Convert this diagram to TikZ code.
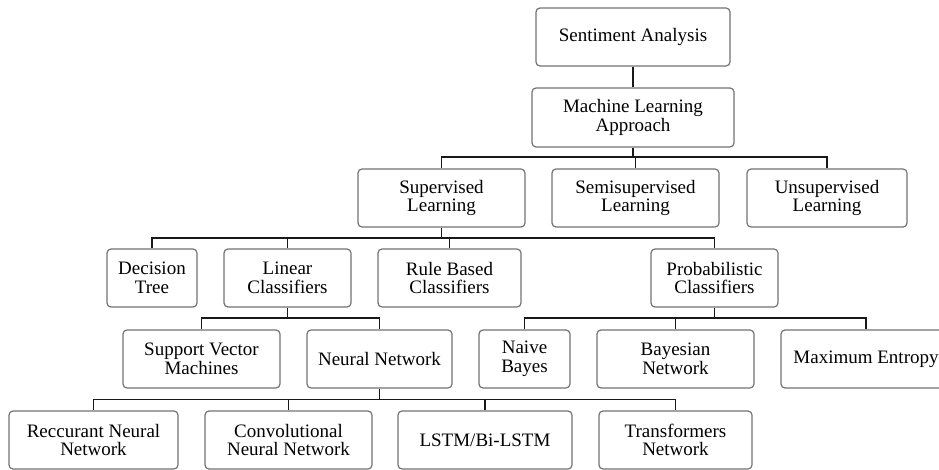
\documentclass[tikz,border=0pt]{standalone}
\usepackage{fontspec}
\setmainfont{Liberation Serif}
\begin{document}
\begin{tikzpicture}[x=1pt,y=-1pt,
  box/.style={draw=black!55, line width=1.2pt, rounded corners=4pt, fill=white,
    align=center, inner sep=0pt, minimum height=58pt,
    font=\fontsize{19}{18.5}\selectfont},
  conn/.style={draw=black!90, line width=1.5pt}]
\useasboundingbox (0,0) rectangle (939,470);
% level 1-3
\node[box, minimum width=194pt, minimum height=58pt] (sa) at (633,37) {Sentiment Analysis};
\node[box, minimum width=202pt, minimum height=59pt] (mla) at (633,117.5) {Machine Learning\\Approach};
\node[box, minimum width=167pt] (sl) at (441.5,198) {Supervised\\Learning};
\node[box, minimum width=167pt] (ssl) at (635.5,198) {Semisupervised\\Learning};
\node[box, minimum width=160pt] (usl) at (827,198) {Unsupervised\\Learning};
% level 4
\node[box, minimum width=90pt] (dt) at (152,278) {Decision\\Tree};
\node[box, minimum width=127pt] (lc) at (287.5,278) {Linear\\Classifiers};
\node[box, minimum width=143pt] (rb) at (449.5,278) {Rule Based\\Classifiers};
\node[box, minimum width=127pt] (pc) at (714.5,278) {Probabilistic\\Classifiers};
% level 5
\node[box, minimum width=157pt] (svm) at (201.5,359) {Support Vector\\Machines};
\node[box, minimum width=145pt] (nn) at (379.5,359) {Neural Network};
\node[box, minimum width=91pt] (nb) at (524.5,359) {Naive\\Bayes};
\node[box, minimum width=157pt] (bn) at (675.5,359) {Bayesian\\Network};
\node[box, minimum width=170pt] (me) at (866,359) {Maximum Entropy};
% level 6
\node[box, minimum width=169pt] (rnn) at (93.5,440) {Reccurant Neural\\Network};
\node[box, minimum width=167pt] (cnn) at (288.5,440) {Convolutional\\Neural Network};
\node[box, minimum width=174pt] (lstm) at (485,440) {LSTM/Bi-LSTM};
\node[box, minimum width=153pt] (tn) at (675.5,440) {Transformers\\Network};
% bus levels
\coordinate (b1) at (0,157);
\coordinate (b2) at (0,238);
\coordinate (b3) at (0,318);
\coordinate (b4) at (0,399.5);
% connectors
\draw[conn] (sa.south) -- (mla.north);
\draw[conn] (mla.south) -- (mla.south |- b1);
\draw[conn] (sl.north) -- (sl.north |- b1) -- (usl.north |- b1) -- (usl.north);
\draw[conn] (ssl.north) -- (ssl.north |- b1);
\draw[conn] (sl.south) -- (sl.south |- b2);
\draw[conn] (dt.north) -- (dt.north |- b2) -- (pc.north |- b2) -- (pc.north);
\draw[conn] (lc.north) -- (lc.north |- b2);
\draw[conn] (rb.north) -- (rb.north |- b2);
\draw[conn] (lc.south) -- (lc.south |- b3);
\draw[conn] (svm.north) -- (svm.north |- b3) -- (nn.north |- b3) -- (nn.north);
\draw[conn] (pc.south) -- (pc.south |- b3);
\draw[conn] (nb.north) -- (nb.north |- b3) -- (me.north |- b3) -- (me.north);
\draw[conn] (bn.north) -- (bn.north |- b3);
\draw[conn] (nn.south) -- (nn.south |- b4);
\draw[conn] (rnn.north) -- (rnn.north |- b4) -- (tn.north |- b4) -- (tn.north);
\draw[conn] (cnn.north) -- (cnn.north |- b4);
\draw[conn] (lstm.north) -- (lstm.north |- b4);
\end{tikzpicture}
\end{document}
